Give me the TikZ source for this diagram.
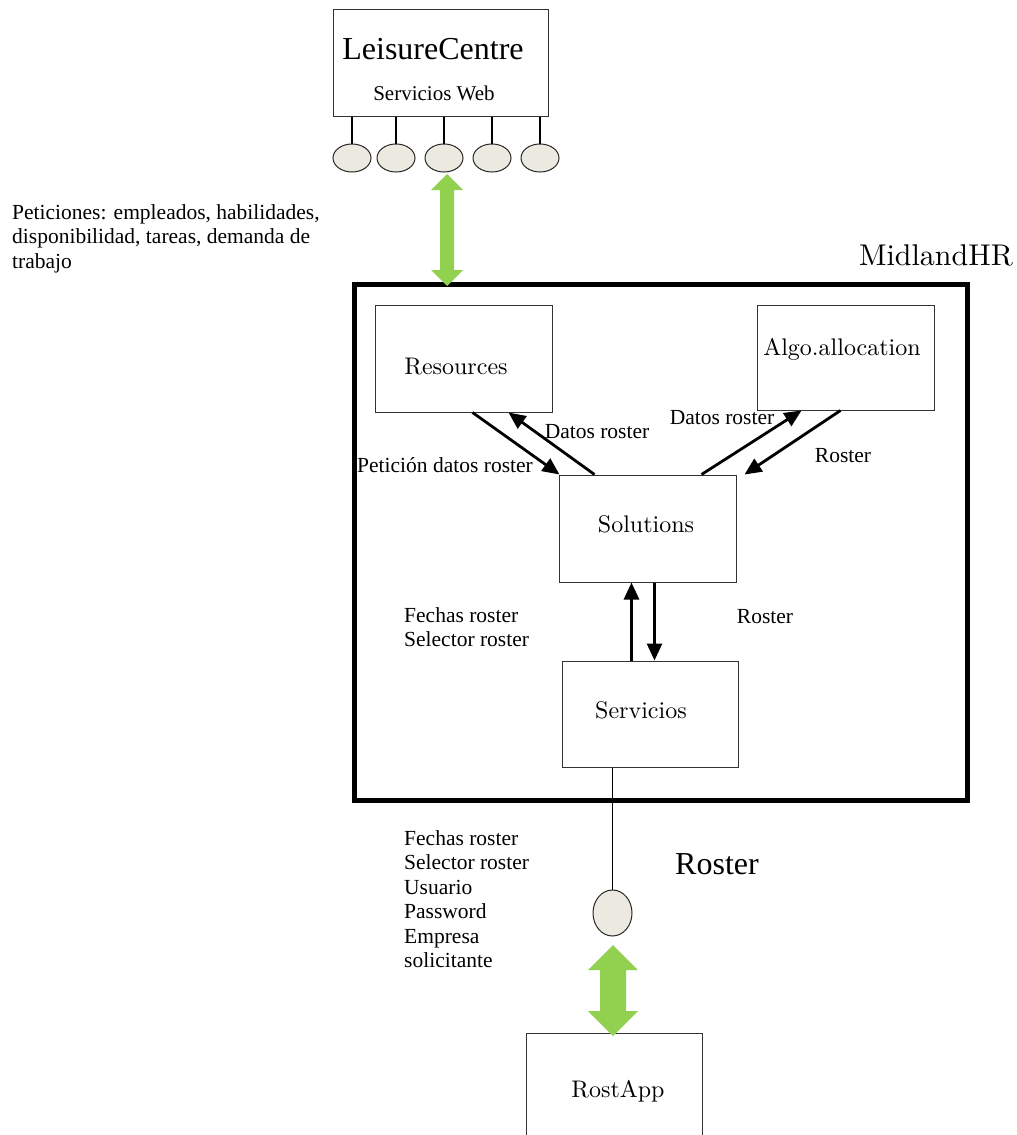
\documentclass[tikz,border=0pt]{standalone}
\usepackage{fontspec}
\setmainfont{Liberation Serif}
\newfontfamily\titlefont{lmroman10-regular}[Extension=.otf]
\usetikzlibrary{arrows.meta,shapes.geometric,calc}

\tikzset{
  box/.style={draw=black!80, line width=1pt, inner sep=0pt},
  frame/.style={draw=black, line width=5pt, inner sep=0pt},
  port/.style={ellipse, draw=black!85, line width=1pt, fill=portfill, inner sep=0pt},
  title/.style={inner sep=0pt, anchor=base, font=\titlefont\fontsize{24}{28}\selectfont},
  bigtitle/.style={inner sep=0pt, anchor=base, font=\titlefont\fontsize{30}{34}\selectfont},
  bigtimes/.style={inner sep=0pt, anchor=base, font=\fontsize{32}{36}\selectfont},
  lbl/.style={inner sep=0pt, anchor=base, font=\fontsize{21.5}{24.5}\selectfont},
  lblblock/.style={inner sep=0pt, anchor=north west, align=left, font=\fontsize{21.5}{24.5}\selectfont},
  flow/.style={line width=2.8pt, -{Triangle[length=17pt,width=15pt]}},
  wire/.style={line width=1.5pt, draw=black},
  bigarrow/.style={fill=arrowgreen, draw=none}
}
\definecolor{portfill}{HTML}{ECEAE0}
\definecolor{arrowgreen}{HTML}{92D050}

\begin{document}
\begin{tikzpicture}[x=1pt, y=-1pt]
\useasboundingbox (0,0) rectangle (1017,1135);
\clip (0,0) rectangle (1017,1135);
\fill[white] (0,0) rectangle (1017,1135);

% LeisureCentre with its web-service ports
\node[box, minimum width=215pt, minimum height=107pt] (lc) at (440.5,62.5) {};
\node[bigtimes] (lctext) at (433,59) {LeisureCentre};
\node[lbl, font=\fontsize{21}{24}\selectfont] (lcweb) at (434,100) {Servicios Web};

\node[port, minimum width=38pt, minimum height=28pt] (p1) at (352,158) {};
\node[port, minimum width=38pt, minimum height=28pt] (p2) at (396,158) {};
\node[port, minimum width=38pt, minimum height=28pt] (p3) at (444,158) {};
\node[port, minimum width=38pt, minimum height=28pt] (p4) at (492,158) {};
\node[port, minimum width=38pt, minimum height=28pt] (p5) at (540,158) {};
\foreach \p in {p1,p2,p3,p4,p5}
  \draw[wire] (lc.south -| \p.north) -- (\p.north);

% Requests to LeisureCentre
\node[lblblock] (peticiones) at (12,204) {Peticiones: empleados, habilidades,\\disponibilidad, tareas, demanda de\\trabajo};

% MidlandHR system frame
\node[frame, minimum width=613pt, minimum height=516pt] (mhr) at (661,542.5) {};
\node[bigtitle] (mhrtext) at (936,265) {MidlandHR};

% Inner components
\node[box, minimum width=177pt, minimum height=107pt] (res) at (463.5,358.5) {};
\node[title] (restext) at (456,374) {Resources};
\node[box, minimum width=177pt, minimum height=105pt] (algo) at (845.5,357.5) {};
\node[title] (algotext) at (842,355) {Algo.allocation};
\node[box, minimum width=177pt, minimum height=107pt] (sol) at (647.5,528.5) {};
\node[title] (soltext) at (646,532) {Solutions};
\node[box, minimum width=176pt, minimum height=106pt] (serv) at (650,714) {};
\node[title] (servtext) at (641,718) {Servicios};

% Data flows between components
\draw[flow] ($(res.south west)+(98,0)$) -- ($(sol.north west)+(1,0)$);
\draw[flow] ($(sol.north west)+(36,0)$) -- ($(res.south west)+(134,0)$);
\draw[flow] ($(sol.north west)+(143,0)$) -- ($(algo.south west)+(45,0)$);
\draw[flow] ($(algo.south west)+(84,0)$) -- ($(sol.north east)+(8,0)$);
\draw[flow] ($(serv.north west)+(70,0)$) -- ($(sol.south west)+(73,0)$);
\draw[flow] ($(sol.south west)+(96,0)$) -- ($(serv.north west)+(93,0)$);

\node[lbl] (l1) at (597,438) {Datos roster};
\node[lbl] (l2) at (445,472) {Petición datos roster};
\node[lbl] (l3) at (722,424) {Datos roster};
\node[lbl] (l4) at (843,462) {Roster};
\node[lblblock] (l5) at (404,607) {Fechas roster\\Selector roster};
\node[lbl] (l6) at (765,623) {Roster};

% Roster service port
\node[port, minimum width=39pt, minimum height=46pt] (rport) at (612.5,913) {};
\draw[wire] (rport.north |- serv.south) -- (rport.north);
\node[bigtimes] (rostertext) at (717,874) {Roster};
\node[lblblock] (l7) at (404,830) {Fechas roster\\Selector roster\\Usuario\\Password\\Empresa\\solicitante};

% RostApp client
\node[box, minimum width=176pt, minimum height=114pt] (app) at (614,1090) {};
\node[title] (apptext) at (618,1097) {RostApp};

% Two-way exchange arrows
\fill[bigarrow] (447,174) -- (463,190) -- (454,190) -- (454,270) -- (463,270) -- (447,286)
  -- (431,270) -- (440,270) -- (440,190) -- (431,190) -- cycle;
\fill[bigarrow] (613,945) -- (638,970) -- (626,970) -- (626,1011) -- (638,1011) -- (613,1036)
  -- (588,1011) -- (600,1011) -- (600,970) -- (588,970) -- cycle;
\end{tikzpicture}
\end{document}
